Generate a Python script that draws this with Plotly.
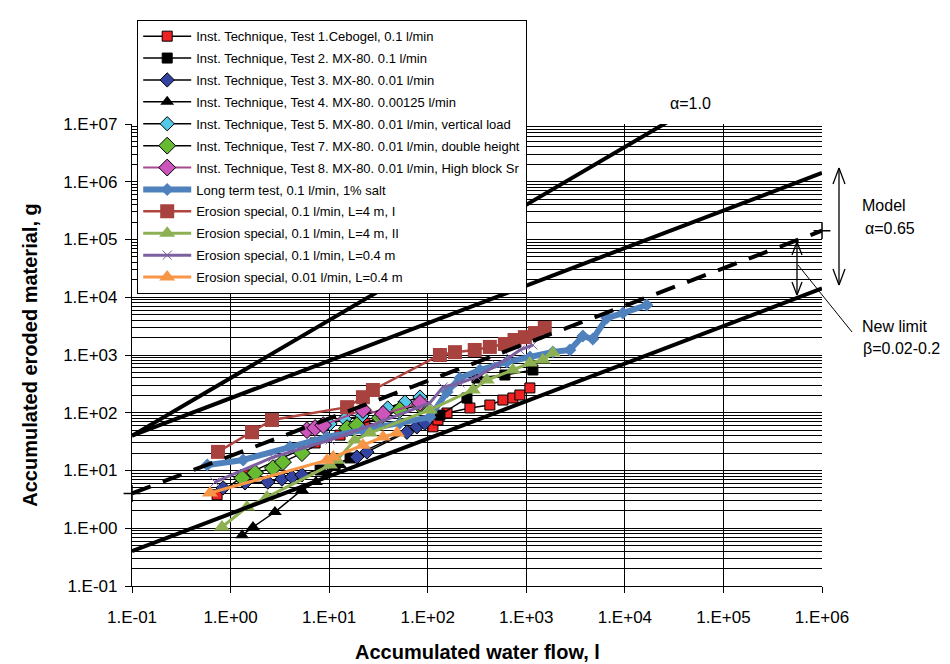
import plotly.graph_objects as go

# ---------------- data ----------------
t1_x = [0.73, 1.40, 7.2, 12.9, 23, 113, 127, 157, 268, 427, 579, 731, 861, 1087]
t1_y = [3.8, 8.4, 30, 41, 66, 57, 75, 99, 121, 136, 166, 180, 203, 269]

t2_x = [8.1, 11.5, 16.3, 133, 250, 316, 607, 1167]
t2_y = [10.2, 12.4, 16.5, 91, 180, 400, 450, 550]

t3_x = [0.84, 1.40, 2.39, 3.32, 4.2, 5.3, 19.1, 24.2, 61.5, 77.6, 93.5]
t3_y = [5.0, 6.1, 6.3, 7.1, 7.7, 8.4, 17.1, 20.9, 46, 57, 66]

t4_x = [1.31, 1.69, 2.82, 5.3, 7.35, 9.7, 12.9]
t4_y = [0.76, 1.05, 1.91, 4.6, 6.3, 8.7, 12.4]

t5_x = [10.2, 14.4, 21.5, 39.3, 58.7, 83.5]
t5_y = [64, 78, 88, 121, 153, 187]

t7_x = [1.31, 1.77, 2.69, 3.4, 5.3, 15.2, 19.1, 32.7, 52, 83]
t7_y = [7.4, 9.05, 11, 14, 20, 54, 61, 81, 112, 136]

t8_x = [5.96, 7.2, 8.7, 22, 35.2, 83.5]
t8_y = [50, 54.5, 61, 112, 95, 148]

lt_x = [0.58, 1.34, 4.0, 9.5, 22, 52, 105, 157, 212, 338, 635, 1090, 1860, 2770, 3750, 4730, 6560, 9550, 16700]
lt_y = [12.4, 15.2, 25.5, 38, 50, 66, 84, 228, 400, 550, 757, 923, 1130, 1220, 2130, 1890, 4370, 5330, 7340]

e1_x = [0.745, 1.65, 2.63, 15.2, 22, 27.8, 133, 189, 300, 427, 606, 760, 968, 1222, 1540]
e1_y = [21, 46, 75, 125, 186, 248, 1000, 1120, 1220, 1380, 1550, 1820, 2040, 2400, 2950]

e2_x = [0.818, 1.47, 2.34, 10.2, 12, 18.2, 25.9, 105, 287, 398, 731, 1087, 1473, 1862]
e2_y = [1.05, 2.33, 3.47, 12.4, 15.1, 33.7, 44.6, 112, 248, 369, 550, 726, 819, 1084]

e3_x = [0.695, 2.69, 10.2, 32.7, 105, 143, 212, 316, 504, 682, 861, 1167]
e3_y = [6.3, 17, 33.7, 69, 148, 279, 327, 416, 671, 922, 1222, 1490]

e4_x = [0.618, 9.5, 11, 22, 35.2, 48.7]
e4_y = [4.07, 15.1, 17.1, 27.5, 38, 44.6]

# model lines: y = c * (x / 0.1) ** alpha
model_x = [0.1, 1e6]
alpha_1_c, alpha_1 = 40, 1.0
upper_c, lower_c, mid_c, alpha_m = 40, 0.4, 4, 0.65

x_tickvals = [1e-1, 1e0, 1e1, 1e2, 1e3, 1e4, 1e5, 1e6]
x_ticktext = ["1.E-01", "1.E+00", "1.E+01", "1.E+02", "1.E+03", "1.E+04", "1.E+05", "1.E+06"]
y_tickvals = [1e-1, 1e0, 1e1, 1e2, 1e3, 1e4, 1e5, 1e6, 1e7]
y_ticktext = ["1.E-01", "1.E+00", "1.E+01", "1.E+02", "1.E+03", "1.E+04", "1.E+05", "1.E+06", "1.E+07"]

# ---------------- figure ----------------
fig = go.Figure()
_g = [0]

def add(x, y, name, lcolor, lwidth, symbol, mcolor, msize, mline=0, mlcolor="black"):
    _g[0] += 1
    fig.add_trace(go.Scatter(
        x=x, y=y, name=name, mode="lines+markers", legendgroup="g%d" % _g[0],
        line=dict(color=lcolor, width=lwidth),
        marker=dict(symbol=symbol, color=mcolor, size=msize,
                    line=dict(width=mline, color=mlcolor)),
    ))

add(t1_x, t1_y, "Inst. Technique, Test 1.Cebogel, 0.1 l/min", "black", 1.5, "square", "#EE2222", 10, 1)
add(t2_x, t2_y, "Inst. Technique, Test 2. MX-80. 0.1 l/min", "black", 1.5, "square", "black", 10, 1)
add(t3_x, t3_y, "Inst. Technique, Test 3. MX-80. 0.01 l/min", "black", 1.5, "diamond", "#3344A0", 11, 1)
add(t4_x, t4_y, "Inst. Technique, Test 4. MX-80. 0.00125 l/min", "black", 1.5, "triangle-up", "black", 12, 0)
add(t5_x, t5_y, "Inst. Technique, Test 5. MX-80. 0.01 l/min, vertical load", "black", 1.5, "diamond", "#55C8E8", 11, 1)
add(t7_x, t7_y, "Inst. Technique, Test 7. MX-80. 0.01 l/min, double height", "black", 1.5, "diamond", "#66BB33", 13, 1)
add(t8_x, t8_y, "Inst. Technique, Test 8. MX-80. 0.01 l/min, High block Sr", "#A8488E", 2, "diamond", "#CC55BB", 13, 1)
add(lt_x, lt_y, "Long term test, 0.1 l/min, 1% salt", "#4F81BD", 6, "diamond", "#4F81BD", 10, 0)
add(e1_x, e1_y, "Erosion special, 0.1 l/min, L=4 m, I", "#B0443F", 2.5, "square", "#A8423F", 14, 0)
add(e2_x, e2_y, "Erosion special, 0.1 l/min, L=4 m, II", "#8DB052", 3, "triangle-up", "#8DB052", 14, 0)
add(e3_x, e3_y, "Erosion special, 0.1 l/min, L=0.4 m", "#7B5FA0", 3, "x-thin-open", "#7B5FA0", 9, 0)
add(e4_x, e4_y, "Erosion special, 0.01 l/min, L=0.4 m", "#F79646", 3, "triangle-up", "#F79646", 14, 0)

fig.add_trace(go.Scatter(x=model_x, y=[alpha_1_c * (v / 0.1) ** alpha_1 for v in model_x],
                         mode="lines", line=dict(color="black", width=4), showlegend=False))
fig.add_trace(go.Scatter(x=model_x, y=[upper_c * (v / 0.1) ** alpha_m for v in model_x],
                         mode="lines", line=dict(color="black", width=4), showlegend=False))
fig.add_trace(go.Scatter(x=model_x, y=[lower_c * (v / 0.1) ** alpha_m for v in model_x],
                         mode="lines", line=dict(color="black", width=4), showlegend=False))
fig.add_trace(go.Scatter(x=model_x, y=[mid_c * (v / 0.1) ** alpha_m for v in model_x],
                         mode="lines+markers", line=dict(color="black", width=4, dash="20px,13px"),
                         marker=dict(symbol="cross-thin-open", size=12, line=dict(color="#B0A8CC", width=1.5)),
                         cliponaxis=False, showlegend=False))

W, H = 950, 664
L, R, T, B = 132, 822, 124, 586
def px(xp):
    return (xp - L) / (R - L)
def py(yp):
    return (B - yp) / (B - T)

font_family = "Liberation Sans, Arial, sans-serif"
ann_font = dict(family=font_family, size=16, color="black")
annotations = [
    dict(x=px(690), y=py(103), text="α=1.0"),
    dict(x=px(884), y=py(205), text="Model"),
    dict(x=px(890), y=py(228), text="α=0.65"),
    dict(x=px(894), y=py(326), text="New limit"),
    dict(x=px(901), y=py(348), text="β=0.02-0.2"),
    dict(x=px(477), y=py(652), text="<b>Accumulated water flow, l</b>",
         font=dict(family=font_family, size=20, color="black")),
]
for a in annotations:
    a.setdefault("font", ann_font)
    a.update(xref="paper", yref="paper", showarrow=False, xanchor="center", yanchor="middle")

shapes = []
def seg(x0, y0, x1, y1, w=1.3):
    shapes.append(dict(type="line", xref="paper", yref="paper",
                       x0=px(x0), y0=py(y0), x1=px(x1), y1=py(y1),
                       line=dict(color="black", width=w)))
# big double arrow
seg(839, 168, 839, 285)
seg(839, 168, 833, 184); seg(839, 168, 845, 184)
seg(839, 285, 833, 269); seg(839, 285, 845, 269)
# small double arrow
seg(797, 242, 797, 295)
seg(797, 242, 792, 255); seg(797, 242, 802, 255)
seg(797, 295, 792, 282); seg(797, 295, 802, 282)
# pointer
seg(798, 265, 852, 332, 1)

fig.update_layout(
    width=W, height=H,
    margin=dict(l=L, r=W - R, t=T, b=H - B),
    paper_bgcolor="white", plot_bgcolor="white",
    font=dict(family=font_family, color="black"),
    showlegend=True,
    legend=dict(x=px(137), y=py(20), xanchor="left", yanchor="top",
                bgcolor="white", bordercolor="black", borderwidth=1.2,
                font=dict(family=font_family, size=13, color="black"),
                traceorder="grouped", tracegroupgap=2, itemwidth=48),
    annotations=annotations,
    shapes=shapes,
)
fig.update_xaxes(
    type="log", range=[-1, 6],
    tickmode="array", tickvals=x_tickvals, ticktext=x_ticktext,
    ticks="outside", ticklen=6, tickcolor="black", tickwidth=1,
    tickfont=dict(family=font_family, size=17, color="black"),
    ticklabelstandoff=9,
    showgrid=True, gridcolor="black", gridwidth=1.2,
    showline=True, linecolor="black", linewidth=1.2,
    zeroline=False,
)
minor_y = [k * 10 ** d for d in range(-1, 7) for k in range(2, 10)]
fig.update_yaxes(
    type="log", range=[-1, 7],
    tickmode="array", tickvals=y_tickvals, ticktext=y_ticktext,
    ticks="outside", ticklen=6, tickcolor="black", tickwidth=1,
    tickfont=dict(family=font_family, size=17, color="black"),
    ticklabelstandoff=4,
    showgrid=True, gridcolor="black", gridwidth=1.2,
    minor=dict(tickmode="array", tickvals=minor_y, showgrid=True, gridcolor="black", gridwidth=1, ticks=""),
    showline=True, linecolor="black", linewidth=1.2,
    zeroline=False,
    title=dict(text="<b>Accumulated eroded material, g</b>", font=dict(family=font_family, size=20, color="black"), standoff=20),
)

fig.write_html("out.html", config={"displayModeBar": False},
               post_script="document.body.style.margin='0';document.body.style.padding='0';")
